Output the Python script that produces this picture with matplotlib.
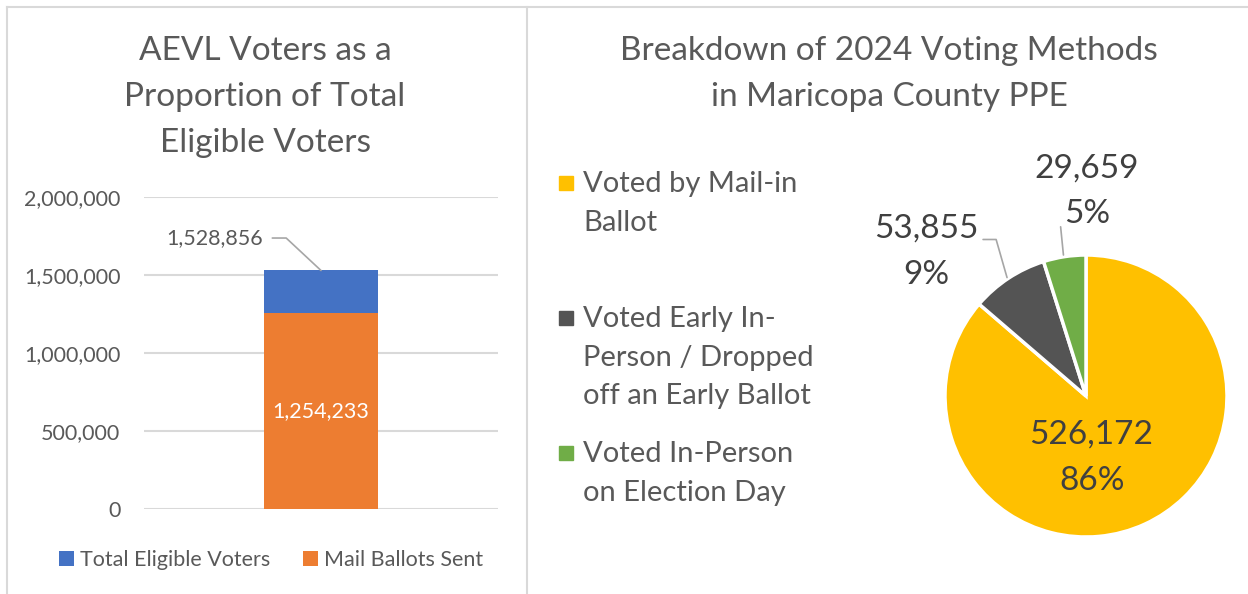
import matplotlib
matplotlib.use("Agg")
import matplotlib.pyplot as plt
from matplotlib.lines import Line2D
from matplotlib.patches import Rectangle

plt.rcParams["font.family"] = ["Lato", "DejaVu Sans"]

# data
bar_series = ["Total Eligible Voters", "Mail Ballots Sent"]
bar_values = [1528856, 1254233]
bar_colors = ["#4472C4", "#ED7D31"]
bar_ticks = [0, 500000, 1000000, 1500000, 2000000]

pie_labels = ["Voted by Mail-in\nBallot",
              "Voted Early In-\nPerson / Dropped\noff an Early Ballot",
              "Voted In-Person\non Election Day"]
pie_values = [526172, 53855, 29659]
pie_colors = ["#FFC000", "#545454", "#70AD47"]

W, H = 1248, 594
fig = plt.figure(figsize=(W / 100, H / 100), dpi=100)
txt = "#595959"


def fx(x):
    return x / W


def fy(y):
    return 1 - y / H


# panel borders
for line in [((7, 7), (7, H)), ((527, 527), (7, H)), ((7, W), (7, 7))]:
    fig.add_artist(Line2D([fx(v) for v in line[0]], [fy(v) for v in line[1]],
                          color="#d9d9d9", lw=1.5))

# ---- left: bar chart
fig.text(fx(265), fy(97), "AEVL Voters as a\nProportion of Total\nEligible Voters",
         ha="center", va="center", fontsize=24, color=txt, linespacing=1.68)

ax = fig.add_axes([fx(144), fy(509), (498 - 144) / W, (509 - 197) / H])
ax.bar(0, bar_values[0], width=0.322, color=bar_colors[0], label=bar_series[0], zorder=2)
ax.bar(0, bar_values[1], width=0.322, color=bar_colors[1], label=bar_series[1], zorder=3)
ax.set_xlim(-0.5, 0.5)
ax.set_ylim(0, 2000000)
ax.set_yticks(bar_ticks)
ax.set_yticklabels([f"{v:,}" for v in bar_ticks], fontsize=15.5, color=txt)
ax.set_xticks([])
ax.tick_params(axis="y", length=0, pad=17)
for s in ax.spines.values():
    s.set_visible(False)
ax.grid(axis="y", color="#d9d9d9", lw=1.5, zorder=0)
ax.set_axisbelow(True)

ax.text(0, bar_values[1] / 2, f"{bar_values[1]:,}", ha="center", va="center",
        color="white", fontsize=15.5, zorder=4)
ax.annotate(f"{bar_values[0]:,}", xy=(0, bar_values[0]), xytext=(-0.165, 1737000),
            ha="right", va="center", fontsize=15.5, color=txt,
            arrowprops=dict(arrowstyle="-", color="#a6a6a6", lw=1.2, shrinkA=5, shrinkB=0,
                            relpos=(1, 0.5),
                            connectionstyle="angle,angleA=0,angleB=137,rad=0"))

ax.legend(loc="center", bbox_to_anchor=(fx(271), fy(560)), bbox_transform=fig.transFigure,
          ncol=2, frameon=False, fontsize=15.5, labelcolor=txt, handlelength=0.7,
          handleheight=0.7, handletextpad=0.3, columnspacing=1.5)

# ---- right: pie chart
fig.text(fx(889), fy(74), "Breakdown of 2024 Voting Methods\nin Maricopa County PPE",
         ha="center", va="center", fontsize=24, color=txt, linespacing=1.63)

cx, cy, r = 1086, 396, 141
pax = fig.add_axes([fx(cx - r), fy(cy + r), 2 * r / W, 2 * r / H])
wedges, _ = pax.pie(pie_values, colors=pie_colors, startangle=90, counterclock=False,
                    wedgeprops=dict(edgecolor="white", linewidth=2.5))
pax.set_xlim(-1, 1)
pax.set_ylim(-1, 1)
pax.set_aspect("equal")

total = sum(pie_values)
lab = "#404040"
pax.text(0.04, -0.44, f"{pie_values[0]:,}\n{pie_values[0] / total:.0%}", ha="center",
         va="center", fontsize=24, color=lab, linespacing=1.7)
pax.text(0.007, 1.45, f"{pie_values[2]:,}\n{pie_values[2] / total:.0%}", ha="center",
         va="center", fontsize=24, color=lab, linespacing=1.64)
pax.text(-1.13, 1.02, f"{pie_values[1]:,}\n{pie_values[1] / total:.0%}", ha="center",
         va="center", fontsize=24, color=lab, linespacing=1.68)
pax.annotate("", xy=(-0.56, 0.84), xytext=(-0.73, 1.11),
             arrowprops=dict(arrowstyle="-", color="#a6a6a6", lw=1.2, shrinkA=0, shrinkB=0,
                             connectionstyle="angle,angleA=0,angleB=106,rad=0"))
pax.annotate("", xy=(-0.16, 1.0), xytext=(-0.18, 1.2),
             arrowprops=dict(arrowstyle="-", color="#a6a6a6", lw=1.2, shrinkA=0, shrinkB=0))

# legend for pie
lax = fig.add_axes([0, 0, 1, 1])
lax.set_xlim(0, W)
lax.set_ylim(H, 0)
lax.axis("off")
for lbl, col, y in zip(pie_labels, pie_colors, [183, 318, 453]):
    lax.add_patch(Rectangle((559, y - 7), 14, 14, color=col))
    lax.text(583, y - 12, lbl, ha="left", va="top", fontsize=21, color=txt,
             linespacing=1.6, transform=lax.transData)

fig.savefig("out.png", dpi=100)
